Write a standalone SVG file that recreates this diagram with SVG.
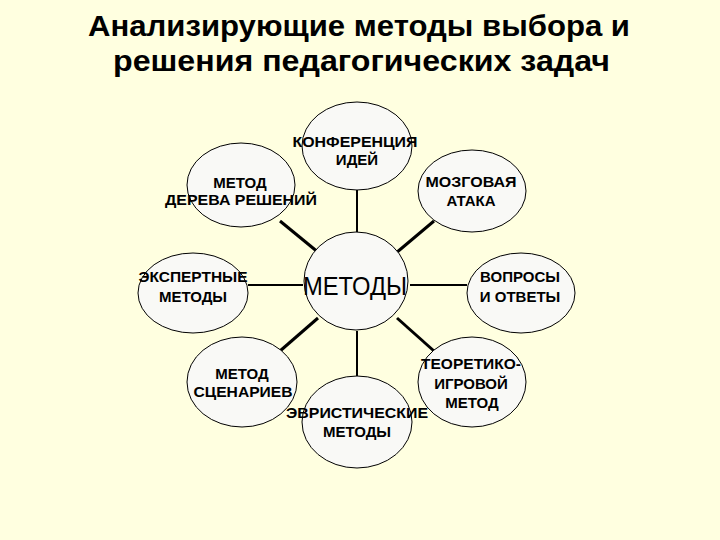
<svg xmlns="http://www.w3.org/2000/svg" width="720" height="540" viewBox="0 0 720 540">
<style>
.bg{fill:#FFFFE0}
.title{font-family:"Liberation Sans",Arial,sans-serif;font-weight:bold;font-size:29px;fill:#000;text-anchor:middle}
.node ellipse{fill:#F9F9F6;stroke:#000;stroke-width:1}
.lbl{font-family:"Liberation Sans",Arial,sans-serif;font-weight:bold;font-size:15px;fill:#000;text-anchor:middle}
.big{font-family:"Liberation Sans",Arial,sans-serif;font-size:26px;fill:#000;text-anchor:middle}
.conn line{stroke:#000;stroke-linecap:butt}
.d{stroke-width:3}
.s{stroke-width:2}
</style>
<rect class="bg" x="0" y="0" width="720" height="540"/>
<g id="title">
<text class="title" x="359" y="36" textLength="542" lengthAdjust="spacingAndGlyphs">Анализирующие методы выбора и</text>
<text class="title" x="361.5" y="71" textLength="497" lengthAdjust="spacingAndGlyphs">решения педагогических задач</text>
</g>
<g id="connectors" class="conn">
<line class="s" x1="357" y1="190" x2="357" y2="232"/>
<line class="d" x1="280" y1="221" x2="319" y2="253"/>
<line class="d" x1="434" y1="221" x2="396" y2="253"/>
<line class="s" x1="248" y1="285" x2="303" y2="285"/>
<line class="s" x1="410" y1="285" x2="467" y2="285"/>
<line class="d" x1="318" y1="318" x2="280" y2="351"/>
<line class="s" x1="357" y1="331" x2="357" y2="377"/>
<line class="d" x1="397" y1="318" x2="434" y2="351"/>
</g>
<g id="n-conf" class="node">
<ellipse cx="357" cy="146" rx="55" ry="44"/>
<text class="lbl" x="355" y="147" textLength="125" lengthAdjust="spacingAndGlyphs">КОНФЕРЕНЦИЯ</text>
<text class="lbl" x="357" y="165">ИДЕЙ</text>
</g>
<g id="n-tree" class="node">
<ellipse cx="241" cy="185" rx="54" ry="42"/>
<text class="lbl" x="240" y="188">МЕТОД</text>
<text class="lbl" x="241" y="205" textLength="152" lengthAdjust="spacingAndGlyphs">ДЕРЕВА РЕШЕНИЙ</text>
</g>
<g id="n-brain" class="node">
<ellipse cx="472" cy="191" rx="54" ry="41"/>
<text class="lbl" x="471" y="187" textLength="91" lengthAdjust="spacingAndGlyphs">МОЗГОВАЯ</text>
<text class="lbl" x="471" y="206">АТАКА</text>
</g>
<g id="n-expert" class="node">
<ellipse cx="193" cy="293" rx="55" ry="40"/>
<text class="lbl" x="193" y="282" textLength="109" lengthAdjust="spacingAndGlyphs">ЭКСПЕРТНЫЕ</text>
<text class="lbl" x="193" y="302">МЕТОДЫ</text>
</g>
<g id="n-center" class="node">
<ellipse cx="356" cy="281" rx="52" ry="49"/>
<text class="big" x="355" y="295" textLength="104" lengthAdjust="spacingAndGlyphs">МЕТОДЫ</text>
</g>
<g id="n-qa" class="node">
<ellipse cx="521" cy="293" rx="54" ry="40"/>
<text class="lbl" x="520" y="282">ВОПРОСЫ</text>
<text class="lbl" x="520" y="302">И ОТВЕТЫ</text>
</g>
<g id="n-scen" class="node">
<ellipse cx="242" cy="382" rx="55" ry="45"/>
<text class="lbl" x="242" y="379">МЕТОД</text>
<text class="lbl" x="243" y="397" textLength="99" lengthAdjust="spacingAndGlyphs">СЦЕНАРИЕВ</text>
</g>
<g id="n-game" class="node">
<ellipse cx="472" cy="382" rx="54" ry="45"/>
<text class="lbl" x="471" y="369" textLength="100" lengthAdjust="spacingAndGlyphs">ТЕОРЕТИКО-</text>
<text class="lbl" x="471" y="389">ИГРОВОЙ</text>
<text class="lbl" x="472" y="408">МЕТОД</text>
</g>
<g id="n-heur" class="node">
<ellipse cx="357" cy="422" rx="55" ry="46"/>
<text class="lbl" x="357" y="418" textLength="142" lengthAdjust="spacingAndGlyphs">ЭВРИСТИЧЕСКИЕ</text>
<text class="lbl" x="357" y="437">МЕТОДЫ</text>
</g>
</svg>
